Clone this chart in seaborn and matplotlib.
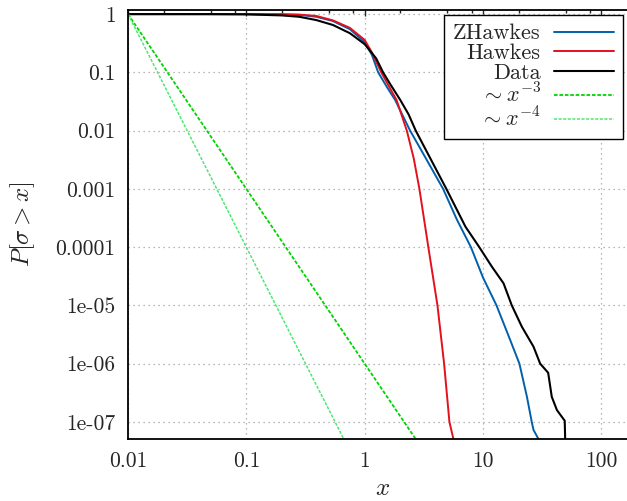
import numpy as np
import pandas as pd
import matplotlib
matplotlib.use("Agg")
import matplotlib.pyplot as plt
import matplotlib.ticker as mticker
import seaborn as sns

# Datos (P[sigma > x])
zh_x = [0.01, 0.1, 0.2, 0.28, 0.39, 0.54, 0.75, 1.0, 1.15, 1.30, 1.55, 1.81, 2.1, 2.42, 3.3, 4.6,
        6.0, 7.9, 10.0, 13.0, 16.9, 20.3, 23.5, 25.8, 26.7, 29.4, 30.0]
zh_y = [1.0, 0.999, 0.995, 0.97, 0.9, 0.76, 0.55, 0.33, 0.2, 0.1, 0.055, 0.0335, 0.018, 0.01, 0.0033, 0.001,
        3.0e-4, 1e-4, 3.0e-5, 1e-5, 2.6e-6, 1e-6, 2.7e-7, 1e-7, 7.3e-8, 5.1e-8, 4e-8]

hk_x = [0.01, 0.1, 0.28, 0.39, 0.54, 0.75, 1.0, 1.15, 1.38, 1.6, 1.86, 2.27, 2.6, 2.9, 3.45, 4.12,
        4.69, 5.2, 5.62, 5.7]
hk_y = [1.0, 0.999, 0.98, 0.93, 0.78, 0.58, 0.36, 0.22, 0.1, 0.058, 0.0335, 0.01, 0.0033, 0.001, 1e-4, 1e-5,
        1e-6, 1e-7, 5.1e-8, 4e-8]

data_x = [0.01, 0.05, 0.1, 0.2, 0.28, 0.39, 0.54, 0.75, 1.0, 1.25, 1.43, 1.65, 2.0, 2.35, 2.7, 4.9,
          7.1, 9.3, 11.9, 14.9, 17.5, 21.3, 26.7, 30.4, 35.5, 38.1, 42.1, 49.0, 49.6]
data_y = [1.0, 0.999, 0.99, 0.95, 0.9, 0.79, 0.65, 0.47, 0.305, 0.174, 0.1, 0.062, 0.0335, 0.019, 0.01, 0.001,
          2.25e-4, 1e-4, 4.6e-5, 2.4e-5, 1e-5, 4.3e-6, 1.96e-6, 1.0e-6, 7.0e-7, 2.7e-7, 1.6e-7, 1.05e-7, 4e-8]

p3_x = [0.01, 1.0, 10.0]
p3_y = [1.0, 1e-6, 1e-9]
p4_x = [0.01, 0.1, 1.0]
p4_y = [1.0, 1e-4, 1e-8]

x_ticks = [0.01, 0.1, 1, 10, 100]
x_labels = ["0.01", "0.1", "1", "10", "100"]
y_ticks = [1, 0.1, 0.01, 0.001, 1e-4, 1e-5, 1e-6, 1e-7]
y_labels = ["1", "0.1", "0.01", "0.001", "0.0001", "1e-05", "1e-06", "1e-07"]

sns.set_style("white")
plt.rcParams["font.family"] = ["cmr10", "DejaVu Serif"]
plt.rcParams["mathtext.fontset"] = "cm"
plt.rcParams["axes.unicode_minus"] = False

fig = plt.figure(figsize=(6.27, 5.01), dpi=100)
ax = fig.add_axes([128 / 627, 62 / 501, 509 / 627, 429.5 / 501])

series = [
    ("ZHawkes", zh_x, zh_y, "#0060ad", "-", 1.4),
    ("Hawkes", hk_x, hk_y, "#e3101e", "-", 1.4),
    ("Data", data_x, data_y, "#000000", "-", 1.5),
    (r"$\sim x^{-3}$", p3_x, p3_y, "#00d400", (0, (2, 1)), 1.3),
    (r"$\sim x^{-4}$", p4_x, p4_y, "#4de873", (0, (2, 1)), 1.1),
]
for name, xs, ys, col, ls, lw in series:
    df = pd.DataFrame({"x": xs, "y": ys})
    sns.lineplot(data=df, x="x", y="y", ax=ax, color=col, linestyle=ls, linewidth=lw, label=name)

ax.set_xscale("log")
ax.set_yscale("log")
ax.set_xlim(0.01, 200)
ax.set_ylim(5.1e-8, 1.2)

ax.xaxis.set_major_locator(mticker.FixedLocator(x_ticks))
ax.xaxis.set_major_formatter(mticker.FixedFormatter(x_labels))
ax.yaxis.set_major_locator(mticker.FixedLocator(y_ticks))
ax.yaxis.set_major_formatter(mticker.FixedFormatter(y_labels))
ax.xaxis.set_minor_locator(mticker.LogLocator(base=10, subs=[2, 5, 8]))
ax.yaxis.set_minor_locator(mticker.LogLocator(base=10, subs=[2, 5, 8]))
ax.xaxis.set_minor_formatter(mticker.NullFormatter())
ax.yaxis.set_minor_formatter(mticker.NullFormatter())

ax.tick_params(which="both", direction="in", top=True, right=True, width=1.0, labelsize=15.5)
ax.tick_params(which="major", length=4, pad=9)
ax.tick_params(which="minor", length=2)

ax.grid(True, which="major", color="#a0a0a0", linestyle=(0, (1, 3)), linewidth=0.9)
for s in ax.spines.values():
    s.set_linewidth(1.3)
    s.set_color("black")

ax.set_xlabel(r"$x$", fontsize=18, labelpad=5)
ax.set_ylabel(r"$P[\sigma > x]$", fontsize=18, labelpad=13)

leg = ax.legend(loc="upper right", bbox_to_anchor=(623 / 627, (501 - 15) / 501),
                bbox_transform=fig.transFigure, markerfirst=False, fontsize=16,
                frameon=True, fancybox=False, edgecolor="black", framealpha=1,
                handlelength=2.7, handletextpad=0.6, labelspacing=0.0, borderpad=0.4,
                borderaxespad=0)
leg.get_frame().set_linewidth(1.0)
for col in leg._legend_handle_box.get_children():
    col.align = "right"

fig.savefig("out.png", dpi=100)
